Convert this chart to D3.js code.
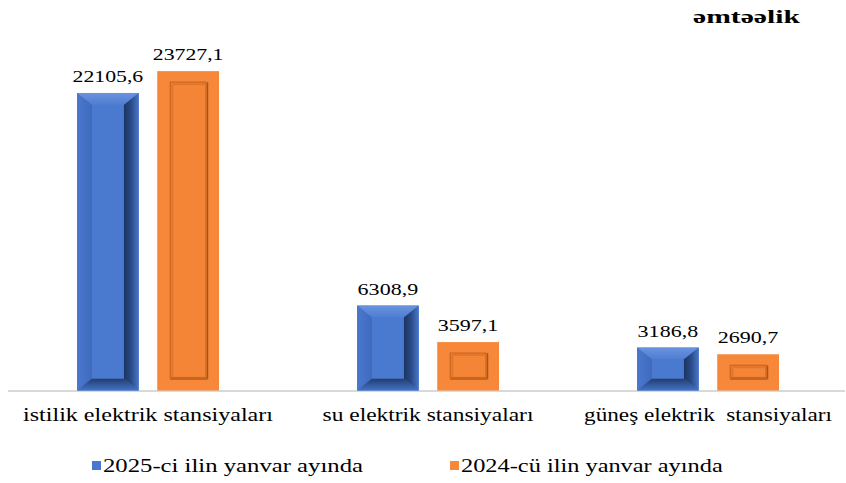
<!DOCTYPE html>
<html>
<head>
<meta charset="utf-8">
<script src="https://cdn.jsdelivr.net/npm/d3@7"></script>
<style>
  html, body { margin: 0; padding: 0; background: #ffffff; }
  svg { display: block; }
</style>
</head>
<body>
<svg id="chart" width="846" height="483"></svg>
<script>
const categories = ["istilik elektrik stansiyaları", "su elektrik stansiyaları", "güneş elektrik  stansiyaları"];
const seriesNames = ["2025-ci ilin yanvar ayında", "2024-cü ilin yanvar ayında"];
const values2025 = [22105.6, 6308.9, 3186.8];
const values2024 = [23727.1, 3597.1, 2690.7];
const valueLabels2025 = ["22105,6", "6308,9", "3186,8"];
const valueLabels2024 = ["23727,1", "3597,1", "2690,7"];
const titleText = "əmtəəlik";

const FONT = "Liberation Serif";
const svg = d3.select("#chart");
const plotLeft = 8, plotRight = 848, plotBase = 390.5, plotTop = 54;

const x0 = d3.scaleBand().domain(categories).range([plotLeft, plotRight]).paddingInner(0).paddingOuter(0);
const x1 = d3.scaleBand().domain(seriesNames).range([x0.bandwidth() / 2 - 71, x0.bandwidth() / 2 + 71]).paddingInner(0.23).paddingOuter(0);
const y = d3.scaleLinear().domain([0, 25000]).range([plotBase, plotTop]);

const colors = { blue: "#4877cf", orange: "#f7883a" };

const defs = svg.append("defs");
function lin(id, ax, ay, bx, by, stops) {
  const g = defs.append("linearGradient").attr("id", id)
    .attr("x1", ax).attr("y1", ay).attr("x2", bx).attr("y2", by);
  stops.forEach(s => g.append("stop").attr("offset", s[0]).attr("stop-color", s[1]));
}
lin("bTop", 0, 0, 0, 1, [[0, "#6a93de"], [1, "#4f7dd2"]]);
lin("bLeft", 0, 0, 1, 0, [[0, "#4a78cd"], [1, "#3f6bbd"]]);
lin("bRight", 0, 0, 1, 0, [[0, "#1b3360"], [0.5, "#2a4b88"], [1, "#4a78cb"]]);
lin("bBottom", 0, 0, 0, 1, [[0, "#223d6e"], [0.6, "#365da3"], [1, "#4573c6"]]);

svg.append("line").attr("x1", plotLeft).attr("x2", 845).attr("y1", plotBase + 0.5).attr("y2", plotBase + 0.5)
  .attr("stroke", "#d9d9d9").attr("stroke-width", 2);

const rows = categories.map((c, i) => ({ cat: c, v25: values2025[i], v24: values2024[i], l25: valueLabels2025[i], l24: valueLabels2024[i] }));

// place a text so that it spans targetW pixels, stretched horizontally like the reference
function stretchedText(parent, str, cx, by, size, targetW, anchor, bold) {
  const t = parent.append("text")
    .attr("font-family", FONT).attr("font-size", size).attr("fill", "#000")
    .attr("font-weight", bold ? "bold" : "normal")
    .attr("text-anchor", anchor)
    .attr("x", 0).attr("y", 0)
    .style("white-space", "pre")
    .text(str);
  const w = t.node().getComputedTextLength() || targetW;
  const sx = targetW / w;
  t.attr("transform", `translate(${cx},${by}) scale(${sx},1)`);
  return t;
}

function drawBlue(g, bx, by, bw, bh) {
  const bv = 12, bhz = 15;
  g.append("rect").attr("x", bx).attr("y", by).attr("width", bw).attr("height", bh).attr("fill", colors.blue);
  const ix0 = bx + bhz, ix1 = bx + bw - bhz, iy0 = by + bv, iy1 = by + bh - bv;
  g.append("polygon").attr("points", [[bx, by], [bx + bw, by], [ix1, iy0], [ix0, iy0]].join(" ")).attr("fill", "url(#bTop)");
  g.append("polygon").attr("points", [[bx, by], [ix0, iy0], [ix0, iy1], [bx, by + bh]].join(" ")).attr("fill", "url(#bLeft)");
  g.append("polygon").attr("points", [[bx + bw, by], [bx + bw, by + bh], [ix1, iy1], [ix1, iy0]].join(" ")).attr("fill", "url(#bRight)");
  g.append("polygon").attr("points", [[bx, by + bh], [bx + bw, by + bh], [ix1, iy1], [ix0, iy1]].join(" ")).attr("fill", "url(#bBottom)");
  g.append("rect").attr("x", ix0).attr("y", iy0).attr("width", Math.max(0, ix1 - ix0)).attr("height", Math.max(0, iy1 - iy0)).attr("fill", "#4a79d0");
}

function drawOrange(g, bx, by, bw, bh) {
  g.append("rect").attr("x", bx).attr("y", by).attr("width", bw).attr("height", bh).attr("fill", colors.orange);
  const ix = 13, iyT = 11, iyB = 13;
  const xa = bx + ix, xb = bx + bw - ix, ya = by + iyT, yb = by + bh - iyB;
  g.append("rect").attr("x", xa).attr("y", ya).attr("width", xb - xa).attr("height", yb - ya)
    .attr("fill", "#f58536").attr("stroke", "#c96621").attr("stroke-width", 1.2);
  g.append("line").attr("x1", xa + 2).attr("x2", xa + 2).attr("y1", ya + 2).attr("y2", yb - 1).attr("stroke", "#e2762c").attr("stroke-width", 2);
  g.append("line").attr("x1", xa + 2).attr("x2", xb - 1).attr("y1", ya + 2).attr("y2", ya + 2).attr("stroke", "#e2762c").attr("stroke-width", 2);
  g.append("line").attr("x1", xb + 1.5).attr("x2", xb + 1.5).attr("y1", ya).attr("y2", yb + 1.5).attr("stroke", "#a9531a").attr("stroke-width", 1.5);
  g.append("line").attr("x1", xa).attr("x2", xb + 1.5).attr("y1", yb + 1.5).attr("y2", yb + 1.5).attr("stroke", "#b95c1c").attr("stroke-width", 1.5);
}

const groups = svg.append("g").selectAll("g").data(rows).join("g")
  .attr("transform", d => `translate(${x0(d.cat)},0)`);

groups.each(function (d) {
  const g = d3.select(this);
  const bx25 = x1(seriesNames[0]), bx24 = x1(seriesNames[1]), bw = x1.bandwidth();
  drawBlue(g, bx25, y(d.v25), bw, plotBase - y(d.v25));
  drawOrange(g, bx24, y(d.v24), bw, plotBase - y(d.v24));
  [[bx25, d.v25, d.l25], [bx24, d.v24, d.l24]].forEach(([bx, v, lab]) => {
    stretchedText(g, lab, bx + bw / 2, y(v) - 11, 17, lab.length * 10.1, "middle", false);
  });
});

const catWidths = [250, 211, 248];
const catG = svg.append("g");
categories.forEach((c, i) => {
  stretchedText(catG, c, x0(c) + x0.bandwidth() / 2, 421, 18, catWidths[i], "middle", false);
});

stretchedText(svg, titleText, 693, 23, 19, 107, "start", true);

const legend = svg.append("g");
const legendItems = [
  { name: seriesNames[0], color: colors.blue, x: 92, w: 260 },
  { name: seriesNames[1], color: colors.orange, x: 450, w: 262 }
];
legendItems.forEach(it => {
  legend.append("rect").attr("x", it.x).attr("y", 461).attr("width", 9).attr("height", 9).attr("fill", it.color);
  stretchedText(legend, it.name, it.x + 11, 472, 18, it.w, "start", false);
});
</script>
</body>
</html>
